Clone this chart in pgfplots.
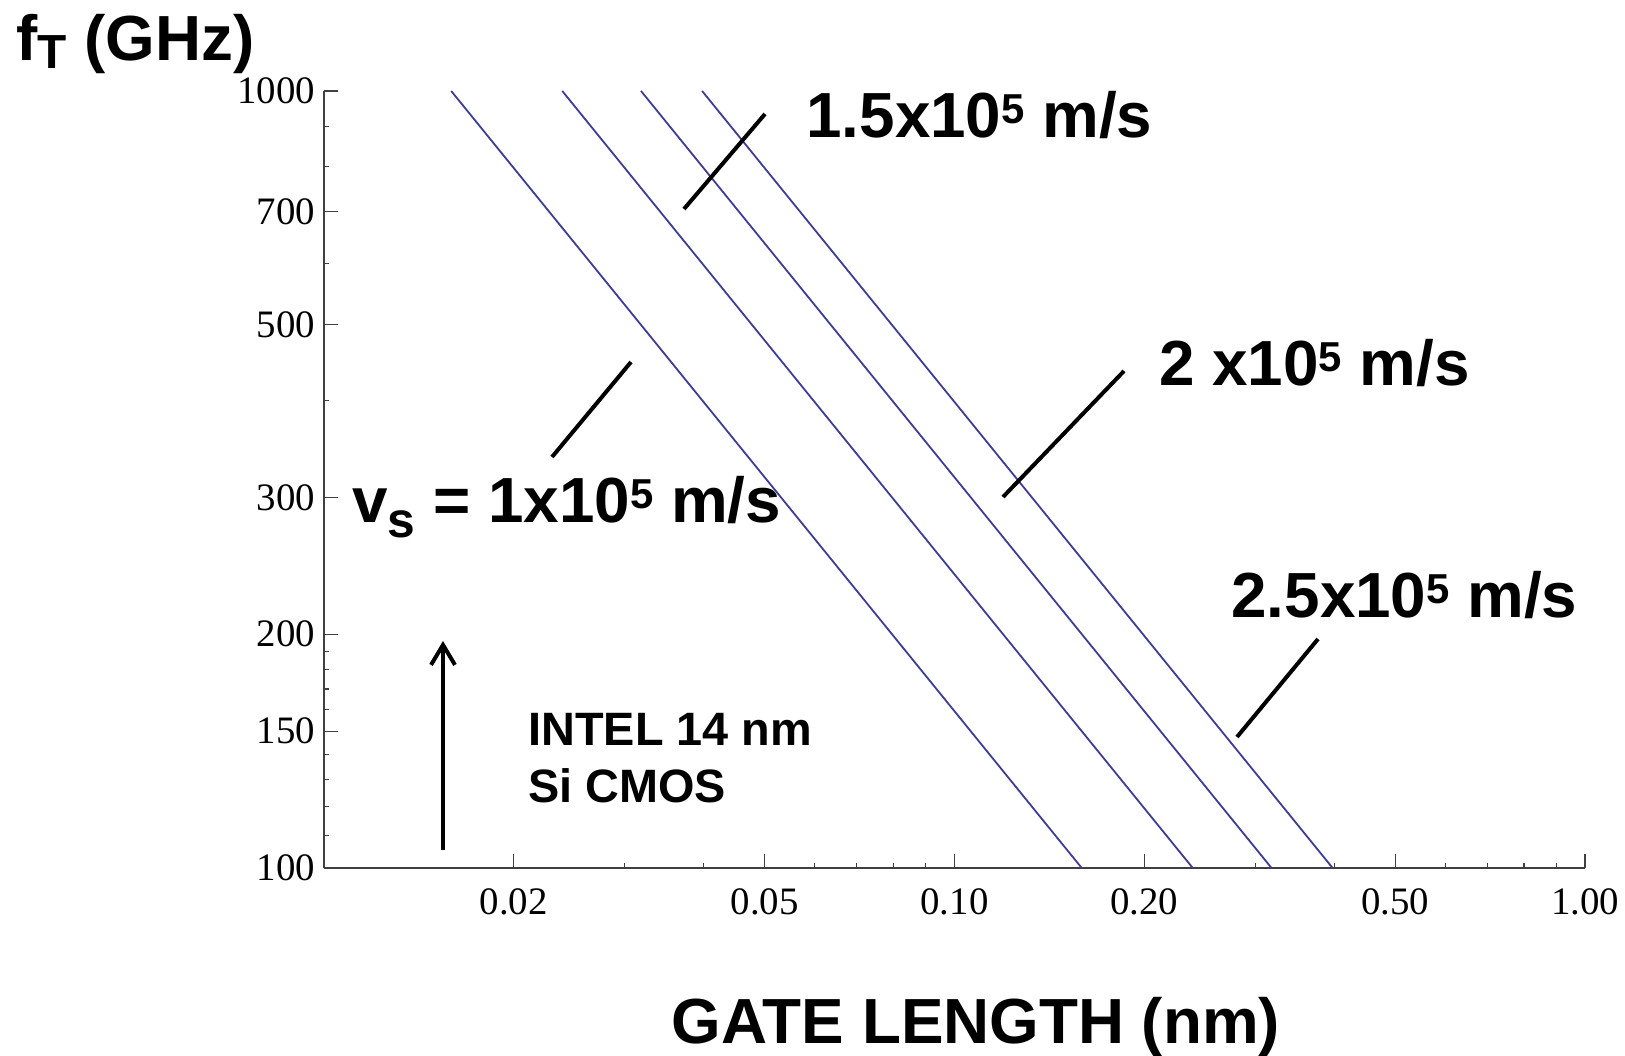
\documentclass[border=0pt]{standalone}
\usepackage{fontspec}
\setmainfont{Liberation Serif}
\newfontfamily\arial{Liberation Sans}
\usepackage{pgfplots}
\pgfplotsset{compat=1.18}
\usetikzlibrary{arrows.meta}
\definecolor{mblue}{rgb}{0.24,0.24,0.6}
\newcommand\sups[1]{\raisebox{7bp}{\fontsize{21}{21}\selectfont #1}}
\begin{document}
\begin{tikzpicture}
\begin{axis}[
  at={(0,0)}, anchor=south west,
  scale only axis, width=630.5bp, height=388.5bp,
  xmode=log, ymode=log,
  xmin=0.01, xmax=1, ymin=100, ymax=1000,
  axis x line*=bottom, axis y line*=left,
  axis line style={-, black!75, line width=0.8bp},
  tick align=inside,
  major tick length=7bp, minor tick length=2.5bp,
  every tick/.style={black!75, line width=0.6bp},
  xtick={0.02,0.05,0.1,0.2,0.5,1},
  xticklabels={0.02,0.05,0.10,0.20,0.50,1.00},
  minor xtick={0.03,0.04,0.06,0.07,0.08,0.09,0.3,0.4,0.6,0.7,0.8,0.9},
  ytick={100,150,200,300,500,700,1000},
  yticklabels={100,150,200,300,500,700,1000},
  minor ytick={110,120,130,140,160,170,180,190,400,600,800,900},
  ticklabel style={font=\fontsize{19.5}{20}\selectfont, text=black},
  xticklabel style={yshift=-7bp},
  yticklabel style={xshift=-1bp},
  /pgf/number format/assume math mode=true,
  clip=false,
]
\addplot[mblue, line width=0.9bp] coordinates {(0.0159155,1000) (0.159155,100)};
\addplot[mblue, line width=0.9bp] coordinates {(0.0238732,1000) (0.238732,100)};
\addplot[mblue, line width=0.9bp] coordinates {(0.0318310,1000) (0.318310,100)};
\addplot[mblue, line width=0.9bp] coordinates {(0.0397887,1000) (0.397887,100)};
\end{axis}
\begin{scope}[x=0.5bp, y=-0.5bp, shift={(-162bp,434bp)},
  big/.style={anchor=base west, inner sep=0pt, font=\arial\bfseries\fontsize{32}{32}\selectfont},
  mid/.style={anchor=base west, inner sep=0pt, font=\arial\bfseries\fontsize{23.5}{28.5}\selectfont}]
  % titles
  \node[big] at (16,61) {f\raisebox{-4bp}{\fontsize{24}{24}\selectfont T} (GHz)};
  \node[big, anchor=base] at (976,1043) {GATE LENGTH (nm)};
  % annotations
  \node[big] at (806,138) {1.5x10\sups{5} m/s};
  \node[big] at (1159,385) {2 x10\sups{5} m/s};
  \node[big] at (352,522) {v\raisebox{-7.5bp}{\fontsize{25}{25}\selectfont s} = 1x10\sups{5} m/s};
  \node[big] at (1231,617) {2.5x10\sups{5} m/s};
  \node[mid] at (528,745) {INTEL 14 nm};
  \node[mid] at (528,802) {Si CMOS};
  % leader lines
  \draw[line width=2bp] (765,114) -- (684,209);
  \draw[line width=2bp] (1124,371) -- (1003,497);
  \draw[line width=2bp] (631,362) -- (552,457);
  \draw[line width=2bp] (1318,639) -- (1237,737);
  % arrow
  \draw[line width=2bp, -{Straight Barb[length=10bp,width=12bp]}] (443,850) -- (443,641);
  \pgfresetboundingbox
  \path[use as bounding box] (0,0) rectangle (1625,1055);
\end{scope}
\end{tikzpicture}
\end{document}
